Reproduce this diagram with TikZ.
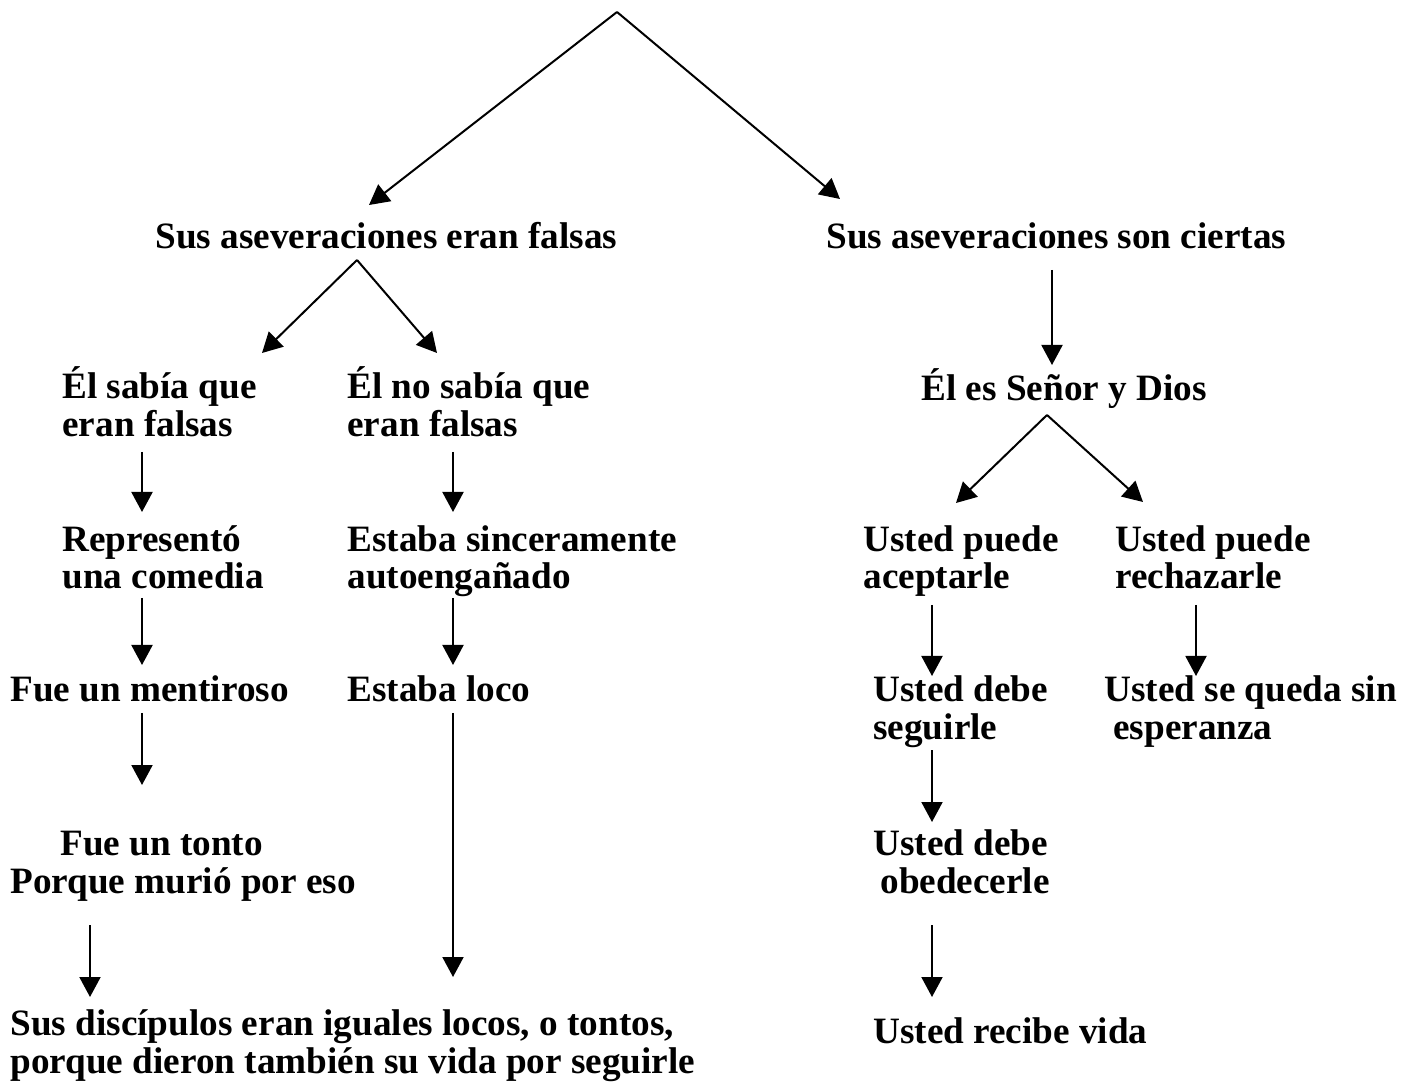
\documentclass[tikz,border=0pt]{standalone}
\usepackage{fontspec}
\setmainfont{Liberation Serif}
\usetikzlibrary{arrows.meta}
\begin{document}
\begin{tikzpicture}[x=0.5pt,y=-0.5pt,
  txt/.style={anchor=base west,inner sep=0pt,align=left,
    font=\fontsize{18.6}{19}\selectfont\bfseries},
  arr/.style={line width=1pt,-{Triangle[length=10pt,width=10.5pt]}}]
\useasboundingbox[fill=white] (0,0) rectangle (1415,1085);
% texts (multi-line nodes are placed by the baseline of their last line)
\node[txt] (falsas) at (155,249) {Sus aseveraciones eran falsas};
\node[txt] (ciertas) at (826,249) {Sus aseveraciones son ciertas};
\node[txt] (sabia) at (62,437) {Él sabía que\\eran falsas};
\node[txt] (nosabia) at (347,437) {Él no sabía que\\eran falsas};
\node[txt] (senor) at (921,401) {Él es Señor y Dios};
\node[txt] (comedia) at (62,589) {Representó\\una comedia};
\node[txt] (sincero) at (347,589) {Estaba sinceramente\\autoengañado};
\node[txt] (acepta) at (863,589) {Usted puede\\aceptarle};
\node[txt] (rechaza) at (1115,589) {Usted puede\\rechazarle};
\node[txt] (mentiroso) at (10,702) {Fue un mentiroso};
\node[txt] (loco) at (347,702) {Estaba loco};
\node[txt] (seguir) at (873,740) {Usted debe\\seguirle};
\node[txt] (sinesp) at (1104,740) {Usted se queda sin\\\hspace*{4.5pt}esperanza};
\node[txt] (tonto) at (10,893) {\hspace*{25pt}Fue un tonto\\Porque murió por eso};
\node[txt] (obedecer) at (873,893) {Usted debe\\\hspace*{3.5pt}obedecerle};
\node[txt] (discipulos) at (10,1073) {Sus discípulos eran iguales locos, o tontos,\\porque dieron también su vida por seguirle};
\node[txt] (vida) at (873,1043) {Usted recibe vida};
% connector points
\coordinate (top) at (617,12);
\coordinate (tL) at (369,205);
\coordinate (tR) at (840,199);
\coordinate (f0) at (357,260);
\coordinate (fL) at (262,353);
\coordinate (fR) at (437,353);
\coordinate (c0) at (1052,270);
\coordinate (c1) at (1052,365);
\coordinate (s0) at (1047,415);
\coordinate (sL) at (956,503);
\coordinate (sR) at (1143,502);
\coordinate (a1) at (142,452); \coordinate (a2) at (142,512);
\coordinate (a3) at (142,598); \coordinate (a4) at (142,665);
\coordinate (a5) at (142,713); \coordinate (a6) at (142,785);
\coordinate (b1) at (90,925);  \coordinate (b2) at (90,997);
\coordinate (d1) at (453,452); \coordinate (d2) at (453,512);
\coordinate (d3) at (453,598); \coordinate (d4) at (453,665);
\coordinate (d5) at (453,713); \coordinate (d6) at (453,977);
\coordinate (e1) at (932,605); \coordinate (e2) at (932,676);
\coordinate (e3) at (932,750); \coordinate (e4) at (932,822);
\coordinate (e5) at (932,925); \coordinate (e6) at (932,997);
\coordinate (g1) at (1196,605); \coordinate (g2) at (1196,676);
% connectors
\draw[arr] (top) -- (tL);
\draw[arr] (top) -- (tR);
\draw[arr] (f0) -- (fL);
\draw[arr] (f0) -- (fR);
\draw[arr] (c0) -- (c1);
\draw[arr] (s0) -- (sL);
\draw[arr] (s0) -- (sR);
\draw[arr] (a1) -- (a2);
\draw[arr] (a3) -- (a4);
\draw[arr] (a5) -- (a6);
\draw[arr] (b1) -- (b2);
\draw[arr] (d1) -- (d2);
\draw[arr] (d3) -- (d4);
\draw[arr] (d5) -- (d6);
\draw[arr] (e1) -- (e2);
\draw[arr] (e3) -- (e4);
\draw[arr] (e5) -- (e6);
\draw[arr] (g1) -- (g2);
\end{tikzpicture}
\end{document}
